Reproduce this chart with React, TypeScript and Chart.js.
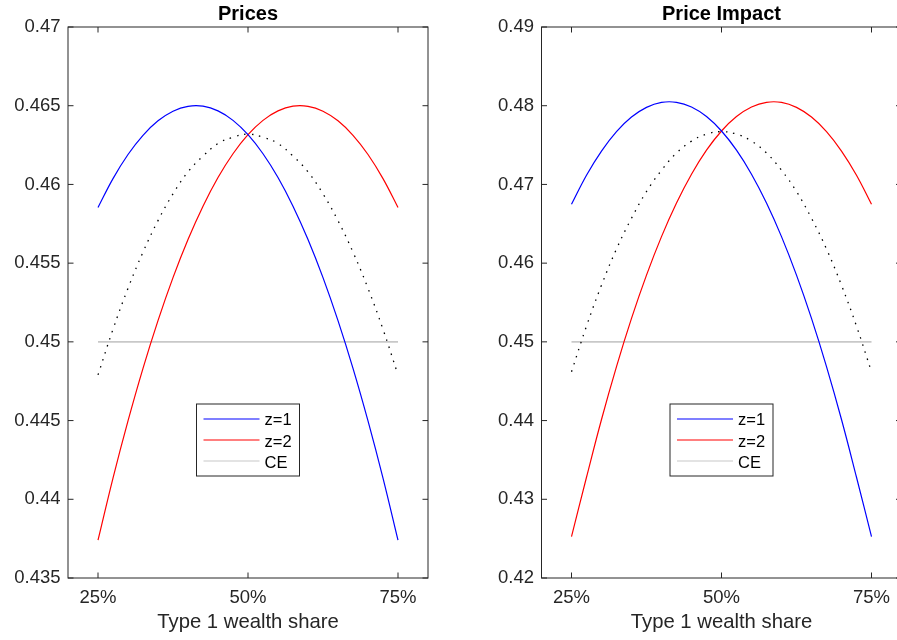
import React, { useEffect, useRef } from "react";
import { Chart, registerables } from "chart.js";

Chart.register(...registerables);

// ---- data ----
const shares = [0.25, 0.275, 0.3, 0.325, 0.35, 0.375, 0.4, 0.425, 0.45, 0.475, 0.5, 0.525, 0.55, 0.575, 0.6, 0.625, 0.65, 0.675, 0.7, 0.725, 0.75];

const pricesZ1 = [0.45854, 0.46037, 0.4619, 0.46312, 0.46404, 0.46465, 0.46496, 0.46497, 0.46467, 0.46407, 0.46316, 0.46195, 0.46044, 0.45862, 0.4565, 0.45408, 0.45135, 0.44832, 0.44498, 0.44135, 0.4374];
const pricesZ2 = [0.4374, 0.44135, 0.44498, 0.44832, 0.45135, 0.45408, 0.4565, 0.45862, 0.46044, 0.46195, 0.46316, 0.46407, 0.46467, 0.46497, 0.46496, 0.46465, 0.46404, 0.46312, 0.4619, 0.46037, 0.45854];
const pricesMid = [0.4479, 0.4508, 0.4534, 0.4557, 0.4577, 0.4594, 0.4608, 0.4618, 0.4626, 0.463, 0.4632, 0.463, 0.4626, 0.4618, 0.4608, 0.4594, 0.4577, 0.4557, 0.4534, 0.4508, 0.4479];
const pricesCE = [0.45, 0.45, 0.45, 0.45, 0.45, 0.45, 0.45, 0.45, 0.45, 0.45, 0.45, 0.45, 0.45, 0.45, 0.45, 0.45, 0.45, 0.45, 0.45, 0.45, 0.45];

const impactZ1 = [0.46748, 0.47117, 0.47424, 0.47671, 0.47856, 0.47979, 0.48042, 0.48043, 0.47983, 0.47862, 0.47679, 0.47435, 0.4713, 0.46764, 0.46337, 0.45848, 0.45298, 0.44686, 0.44014, 0.4328, 0.42525];
const impactZ2 = [0.42525, 0.4328, 0.44014, 0.44686, 0.45298, 0.45848, 0.46337, 0.46764, 0.4713, 0.47435, 0.47679, 0.47862, 0.47983, 0.48043, 0.48042, 0.47979, 0.47856, 0.47671, 0.47424, 0.47117, 0.46748];
const impactMid = [0.4462, 0.452, 0.4572, 0.4618, 0.4657, 0.4691, 0.4718, 0.474, 0.4755, 0.4764, 0.4767, 0.4764, 0.4755, 0.474, 0.4718, 0.4691, 0.4657, 0.4618, 0.4572, 0.452, 0.4462];
const impactCE = [0.45, 0.45, 0.45, 0.45, 0.45, 0.45, 0.45, 0.45, 0.45, 0.45, 0.45, 0.45, 0.45, 0.45, 0.45, 0.45, 0.45, 0.45, 0.45, 0.45, 0.45];

const xTicks = [0.25, 0.5, 0.75];
const pricesYTicks = [0.435, 0.44, 0.445, 0.45, 0.455, 0.46, 0.465, 0.47];
const impactYTicks = [0.42, 0.43, 0.44, 0.45, 0.46, 0.47, 0.48, 0.49];

const legendLabels = ["z=1", "z=2", "CE"];
const xLabel = "Type 1 wealth share";

const FONT = '"Liberation Sans", Arial, Helvetica, sans-serif';
const AXIS_COLOR = "#262626";

const pts = (ys: number[]) => shares.map((x, i) => ({ x, y: ys[i] }));

type PanelProps = {
  title: string;
  z1: number[];
  z2: number[];
  mid: number[];
  ce: number[];
  yTicks: number[];
  canvasWidth: number;
  yAxisWidth: number;
  padRight: number;
  left: number;
};

function Panel(p: PanelProps) {
  const ref = useRef<HTMLCanvasElement | null>(null);

  useEffect(() => {
    if (!ref.current) return;
    const decor = {
      id: "matlabDecor",
      afterDraw(chart: any) {
        const { ctx, chartArea: a, scales } = chart;
        const xs = scales.x;
        const ys = scales.y;
        const cx = (a.left + a.right) / 2;
        ctx.save();
        ctx.strokeStyle = AXIS_COLOR;
        ctx.lineWidth = 1;
        ctx.strokeRect(a.left, a.top, a.right - a.left, a.bottom - a.top);
        const tl = 5.5;
        ctx.beginPath();
        for (const v of xTicks) {
          const px = xs.getPixelForValue(v);
          ctx.moveTo(px, a.bottom);
          ctx.lineTo(px, a.bottom - tl);
          ctx.moveTo(px, a.top);
          ctx.lineTo(px, a.top + tl);
        }
        for (const v of p.yTicks) {
          const py = ys.getPixelForValue(v);
          ctx.moveTo(a.left, py);
          ctx.lineTo(a.left + tl, py);
          ctx.moveTo(a.right, py);
          ctx.lineTo(a.right - tl, py);
        }
        ctx.stroke();

        // title
        ctx.fillStyle = "#000";
        ctx.textAlign = "center";
        ctx.textBaseline = "alphabetic";
        ctx.font = `bold 20px ${FONT}`;
        ctx.fillText(p.title, cx, 19.5);

        // x label
        ctx.fillStyle = AXIS_COLOR;
        ctx.font = `20.3px ${FONT}`;
        ctx.fillText(xLabel, cx, 628);

        // legend
        const bw = 103;
        const bh = 72;
        const bl = cx - bw / 2;
        const bt = a.top + 377;
        ctx.fillStyle = "#fff";
        ctx.fillRect(bl, bt, bw, bh);
        ctx.strokeStyle = AXIS_COLOR;
        ctx.lineWidth = 1;
        ctx.strokeRect(bl, bt, bw, bh);
        const items = chart.data.datasets.filter((d: any) => legendLabels.includes(d.label));
        items.forEach((d: any, i: number) => {
          const ly = bt + 15 + i * 21;
          ctx.beginPath();
          ctx.strokeStyle = d.borderColor;
          ctx.lineWidth = 1.2;
          ctx.moveTo(bl + 7, ly);
          ctx.lineTo(bl + 63, ly);
          ctx.stroke();
          ctx.fillStyle = "#000";
          ctx.textAlign = "left";
          ctx.font = `16.5px ${FONT}`;
          ctx.fillText(d.label, bl + 68, bt + 21 + i * 21.5);
        });
        ctx.restore();
      },
    };

    const chart = new Chart(ref.current, {
      type: "line",
      data: {
        datasets: [
          { label: legendLabels[0], data: pts(p.z1), borderColor: "#0000ff", borderWidth: 1.2, tension: 0.4 },
          { label: legendLabels[1], data: pts(p.z2), borderColor: "#ff0000", borderWidth: 1.2, tension: 0.4 },
          { label: "", data: pts(p.mid), borderColor: "#000000", borderWidth: 1.3, borderDash: [1.5, 6], tension: 0.4 },
          { label: legendLabels[2], data: pts(p.ce), borderColor: "#c8c8c8", borderWidth: 1.8 },
        ] as any,
      },
      options: {
        responsive: false,
        animation: false,
        parsing: false as any,
        layout: { padding: { top: 27, right: p.padRight, left: 0, bottom: 0 } },
        elements: { point: { radius: 0 } },
        plugins: {
          legend: { display: false },
          title: { display: false },
          tooltip: { enabled: false },
        },
        scales: {
          x: {
            type: "linear",
            min: 0.2,
            max: 0.8,
            grid: { display: false, drawTicks: false },
            border: { display: false },
            afterBuildTicks: (s: any) => {
              s.ticks = xTicks.map((v) => ({ value: v }));
            },
            afterFit: (s: any) => {
              s.height = 62;
            },
            ticks: {
              padding: 9,
              color: AXIS_COLOR,
              font: { family: FONT, size: 18.5 },
              maxRotation: 0,
              autoSkip: false,
              callback: (v: any) => Math.round(Number(v) * 100) + "%",
            },
          },
          y: {
            type: "linear",
            min: p.yTicks[0],
            max: p.yTicks[p.yTicks.length - 1],
            grid: { display: false, drawTicks: false },
            border: { display: false },
            afterBuildTicks: (s: any) => {
              s.ticks = p.yTicks.map((v) => ({ value: v }));
            },
            afterFit: (s: any) => {
              s.width = p.yAxisWidth;
            },
            ticks: {
              padding: 7.5,
              color: AXIS_COLOR,
              font: { family: FONT, size: 18.5 },
              autoSkip: false,
              callback: (v: any) => String(Number(Number(v).toFixed(3))),
            },
          },
        },
      } as any,
      plugins: [decor],
    });
    return () => chart.destroy();
  }, []);

  return (
    <canvas
      ref={ref}
      width={p.canvasWidth}
      height={640}
      style={{ position: "absolute", left: p.left, top: 0, width: p.canvasWidth, height: 640 }}
    />
  );
}

export default function App() {
  return (
    <div
      style={{
        position: "absolute",
        left: 0,
        top: 0,
        width: 897,
        height: 640,
        overflow: "hidden",
        background: "#fff",
      }}
    >
      <Panel
        title="Prices"
        z1={pricesZ1}
        z2={pricesZ2}
        mid={pricesMid}
        ce={pricesCE}
        yTicks={pricesYTicks}
        canvasWidth={448}
        yAxisWidth={68}
        padRight={20}
        left={0}
      />
      <Panel
        title="Price Impact"
        z1={impactZ1}
        z2={impactZ2}
        mid={impactMid}
        ce={impactCE}
        yTicks={impactYTicks}
        canvasWidth={474}
        yAxisWidth={93.5}
        padRight={20.5}
        left={448}
      />
    </div>
  );
}
